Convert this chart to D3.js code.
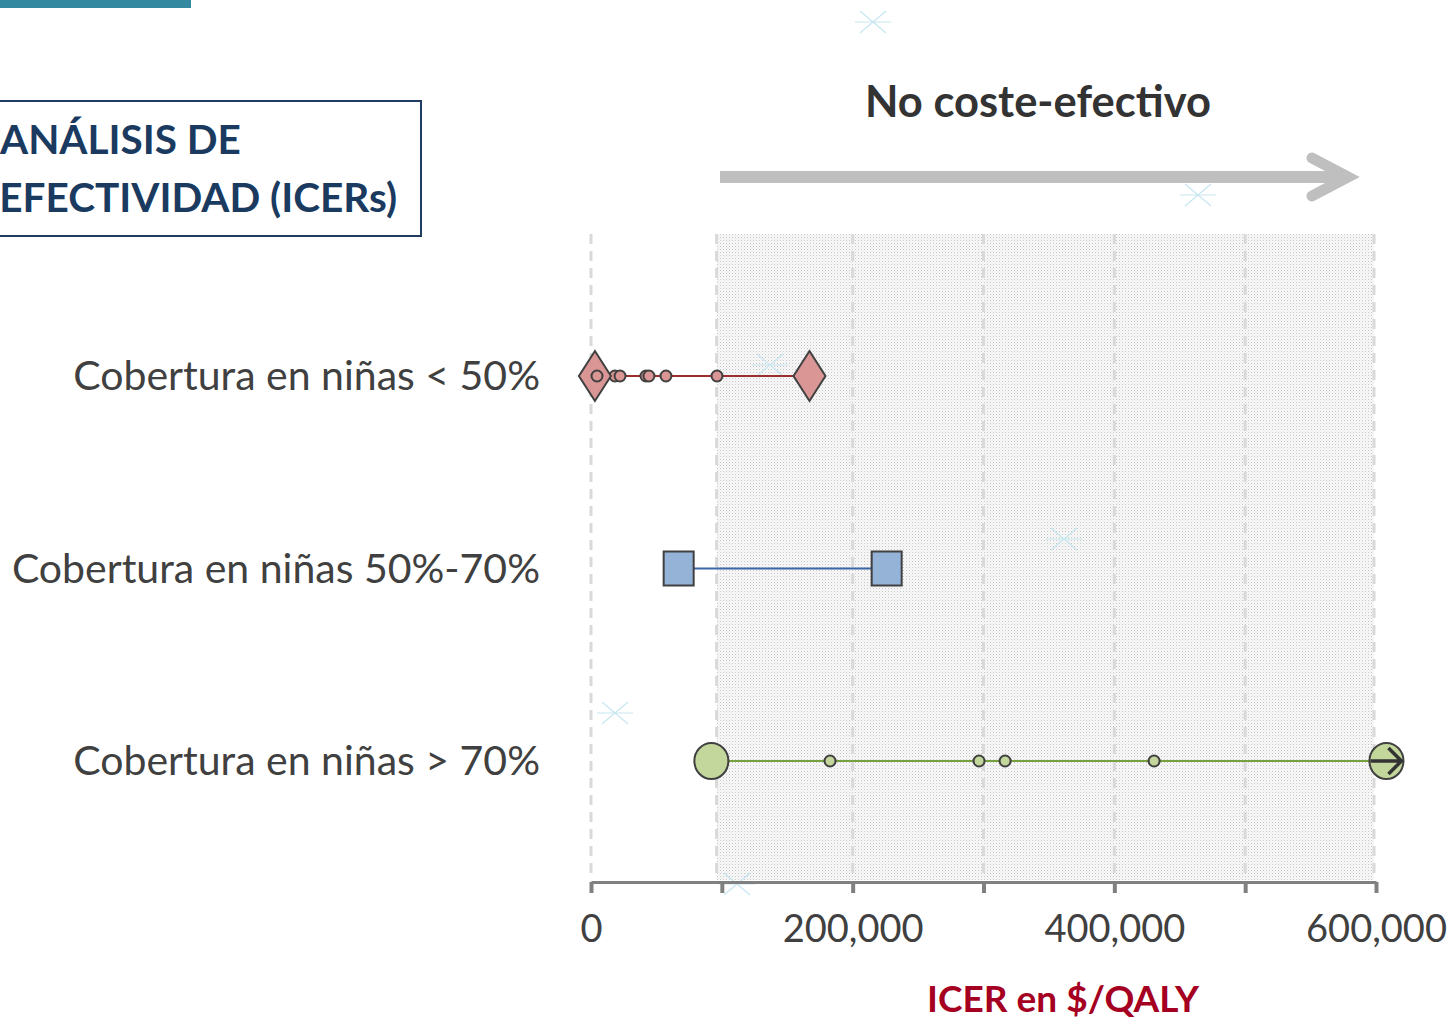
<!DOCTYPE html>
<html>
  <head>
    <meta charset="utf-8">
    <title></title>
    <style>
      body { margin: 0; background: #fff; overflow: hidden; }
      text { font-family: Lato, "Open Sans", sans-serif; }
    </style>
  </head>
  <body>
    <script src="https://cdn.jsdelivr.net/npm/d3@7"></script>
    <script>
      // datos
      var categories = ['Cobertura en niñas < 50%', 'Cobertura en niñas 50%-70%', 'Cobertura en niñas > 70%'];
      var rangeLow = [3000, 67000, 92000];
      var rangeHigh = [167000, 226000, 608000];
      var innerPoints = [
        [4600, 18300, 22200, 42000, 44300, 57300, 96300],
        [],
        [182700, 296600, 316500, 430400]
      ];
      var tickValues = [0, 100000, 200000, 300000, 400000, 500000, 600000];
      var tickLabels = ['0', '', '200,000', '', '400,000', '', '600,000'];
      var threshold = 96000;

      var width = 1453, height = 1019;
      var colors = [
        { fill: '#d99694', line: '#9b2d2d' },
        { fill: '#95b3d7', line: '#3a67a8' },
        { fill: '#c3d69b', line: '#77a040' }
      ];

      var svg = d3.select('body').append('svg')
        .attr('width', width).attr('height', height);

      var x = d3.scaleLinear().domain([0, 600000]).range([591, 1376]);
      var y = d3.scalePoint().domain(categories).range([376, 761]);
      var plotTop = 234, plotBottom = 880;

      // patrón punteado del área no coste-efectiva
      var defs = svg.append('defs');
      var pat = defs.append('pattern').attr('id', 'dots')
        .attr('width', 3).attr('height', 3).attr('patternUnits', 'userSpaceOnUse');
      pat.append('rect').attr('width', 3).attr('height', 3).attr('fill', '#f8f8f8');
      pat.append('rect').attr('width', 1).attr('height', 1).attr('fill', '#c6c6c6');
      pat.append('rect').attr('x', 1.5).attr('y', 1.5).attr('width', 1).attr('height', 1).attr('fill', '#e2e2e2');

      // barra superior
      svg.append('rect').attr('x', 0).attr('y', 0).attr('width', 191).attr('height', 8).attr('fill', '#338aa0');

      // caja de título
      svg.append('rect').attr('x', -10).attr('y', 101).attr('width', 431).attr('height', 135)
        .attr('fill', 'none').attr('stroke', '#1f3b60').attr('stroke-width', 2);
      svg.append('text').attr('x', 0).attr('y', 154)
        .attr('font-size', 40.5).attr('font-weight', 'bold').attr('fill', '#1b3a60')
        .text('ANÁLISIS DE');
      svg.append('text').attr('x', 397).attr('y', 212).attr('text-anchor', 'end')
        .attr('font-size', 40.5).attr('font-weight', 'bold').attr('fill', '#1b3a60')
        .text('EFECTIVIDAD (ICERs)');

      // área sombreada
      svg.append('rect')
        .attr('x', x(threshold)).attr('y', plotTop)
        .attr('width', x(600000) - x(threshold) - 2).attr('height', plotBottom - plotTop)
        .attr('fill', 'url(#dots)');

      // líneas de cuadrícula
      svg.selectAll('.grid').data(tickValues).enter().append('line')
        .attr('class', 'grid')
        .attr('x1', function(d) { return d === 100000 ? x(threshold) : x(d) - (d === 600000 ? 2 : 0); })
        .attr('x2', function(d) { return d === 100000 ? x(threshold) : x(d) - (d === 600000 ? 2 : 0); })
        .attr('y1', plotTop).attr('y2', plotBottom)
        .attr('stroke', '#d9d9d9').attr('stroke-width', 3)
        .attr('stroke-dasharray', '10,7');

      // marcas decorativas
      var stars = [[873, 22], [1198, 195], [770, 365], [1064, 539], [615, 713], [737, 884]];
      stars.forEach(function(s) {
        var g = svg.append('g').attr('transform', 'translate(' + s[0] + ',' + s[1] + ')')
          .attr('stroke', '#c6e6f0').attr('stroke-width', 1.2);
        g.append('line').attr('x1', -18).attr('x2', 18).attr('y1', 0).attr('y2', 0);
        g.append('line').attr('x1', -13).attr('x2', 13).attr('y1', -11).attr('y2', 11);
        g.append('line').attr('x1', -13).attr('x2', 13).attr('y1', 11).attr('y2', -11);
      });

      // flecha "No coste-efectivo"
      svg.append('text').attr('x', 1038).attr('y', 117).attr('text-anchor', 'middle')
        .attr('font-size', 43.5).attr('font-weight', 'bold').attr('fill', '#333')
        .text('No coste-efectivo');
      svg.append('line').attr('x1', 720).attr('x2', 1340).attr('y1', 177).attr('y2', 177)
        .attr('stroke', '#bfbfbf').attr('stroke-width', 12);
      svg.append('path').attr('d', 'M1312,158 L1348,177 L1312,196')
        .attr('fill', 'none').attr('stroke', '#bfbfbf').attr('stroke-width', 11)
        .attr('stroke-linecap', 'round').attr('stroke-linejoin', 'miter');

      // eje x
      var axis = d3.axisBottom(x).tickValues(tickValues)
        .tickFormat(function(d, i) { return tickLabels[i]; })
        .tickSize(11).tickPadding(22).tickSizeOuter(0);
      var gx = svg.append('g').attr('transform', 'translate(0,882)').call(axis);
      gx.select('.domain').attr('stroke', '#808080').attr('stroke-width', 3);
      gx.selectAll('.tick line').attr('stroke', '#808080').attr('stroke-width', 4);
      gx.selectAll('.tick text').attr('font-size', 38).attr('fill', '#404040')
        .attr('font-family', 'Lato, sans-serif');

      svg.append('text').attr('x', 1063).attr('y', 1012).attr('text-anchor', 'middle')
        .attr('font-size', 37).attr('font-weight', 'bold').attr('fill', '#a50021')
        .text('ICER en $/QALY');

      // etiquetas de categoría
      svg.selectAll('.cat').data(categories).enter().append('text')
        .attr('class', 'cat')
        .attr('x', 540).attr('y', function(d) { return y(d) + 14; })
        .attr('text-anchor', 'end').attr('font-size', 41).attr('fill', '#404040')
        .text(function(d) { return d; });

      // líneas de rango
      svg.selectAll('.range').data(categories).enter().append('line')
        .attr('class', 'range')
        .attr('x1', function(d, i) { return x(rangeLow[i]); })
        .attr('x2', function(d, i) { return x(rangeHigh[i]); })
        .attr('y1', function(d) { return y(d); })
        .attr('y2', function(d) { return y(d); })
        .attr('stroke', function(d, i) { return colors[i].line; })
        .attr('stroke-width', 2);

      // puntos intermedios
      categories.forEach(function(c, i) {
        svg.selectAll('.pt' + i).data(innerPoints[i]).enter().append('circle')
          .attr('cx', function(d) { return x(d); }).attr('cy', y(c)).attr('r', 5.5)
          .attr('fill', colors[i].fill).attr('stroke', '#404040').attr('stroke-width', 2);
      });

      // extremos
      function endMarker(i, v) {
        var cx = x(v), cy = y(categories[i]);
        var g = svg.append('g').attr('transform', 'translate(' + cx + ',' + cy + ')');
        var m;
        if (i === 0) {
          m = g.append('path').attr('d', 'M0,-25 L16,0 L0,25 L-16,0 Z');
        } else if (i === 1) {
          m = g.append('rect').attr('x', -15).attr('y', -17).attr('width', 30).attr('height', 34);
        } else {
          m = g.append('ellipse').attr('rx', 17).attr('ry', 18);
        }
        m.attr('fill', colors[i].fill).attr('stroke', '#404040').attr('stroke-width', 2);
        return g;
      }
      categories.forEach(function(c, i) {
        endMarker(i, rangeLow[i]);
        var g = endMarker(i, rangeHigh[i]);
        if (rangeHigh[i] > 600000) {
          g.append('path').attr('d', 'M-16,0 L14,0 M2,-13 L15,0 L2,13')
            .attr('fill', 'none').attr('stroke', '#333').attr('stroke-width', 3.5);
        }
      });
      // punto interior del rombo izquierdo
      svg.append('circle').attr('cx', x(innerPoints[0][0])).attr('cy', y(categories[0])).attr('r', 5.5)
        .attr('fill', colors[0].fill).attr('stroke', '#404040').attr('stroke-width', 2);
    </script>
  </body>
</html>
